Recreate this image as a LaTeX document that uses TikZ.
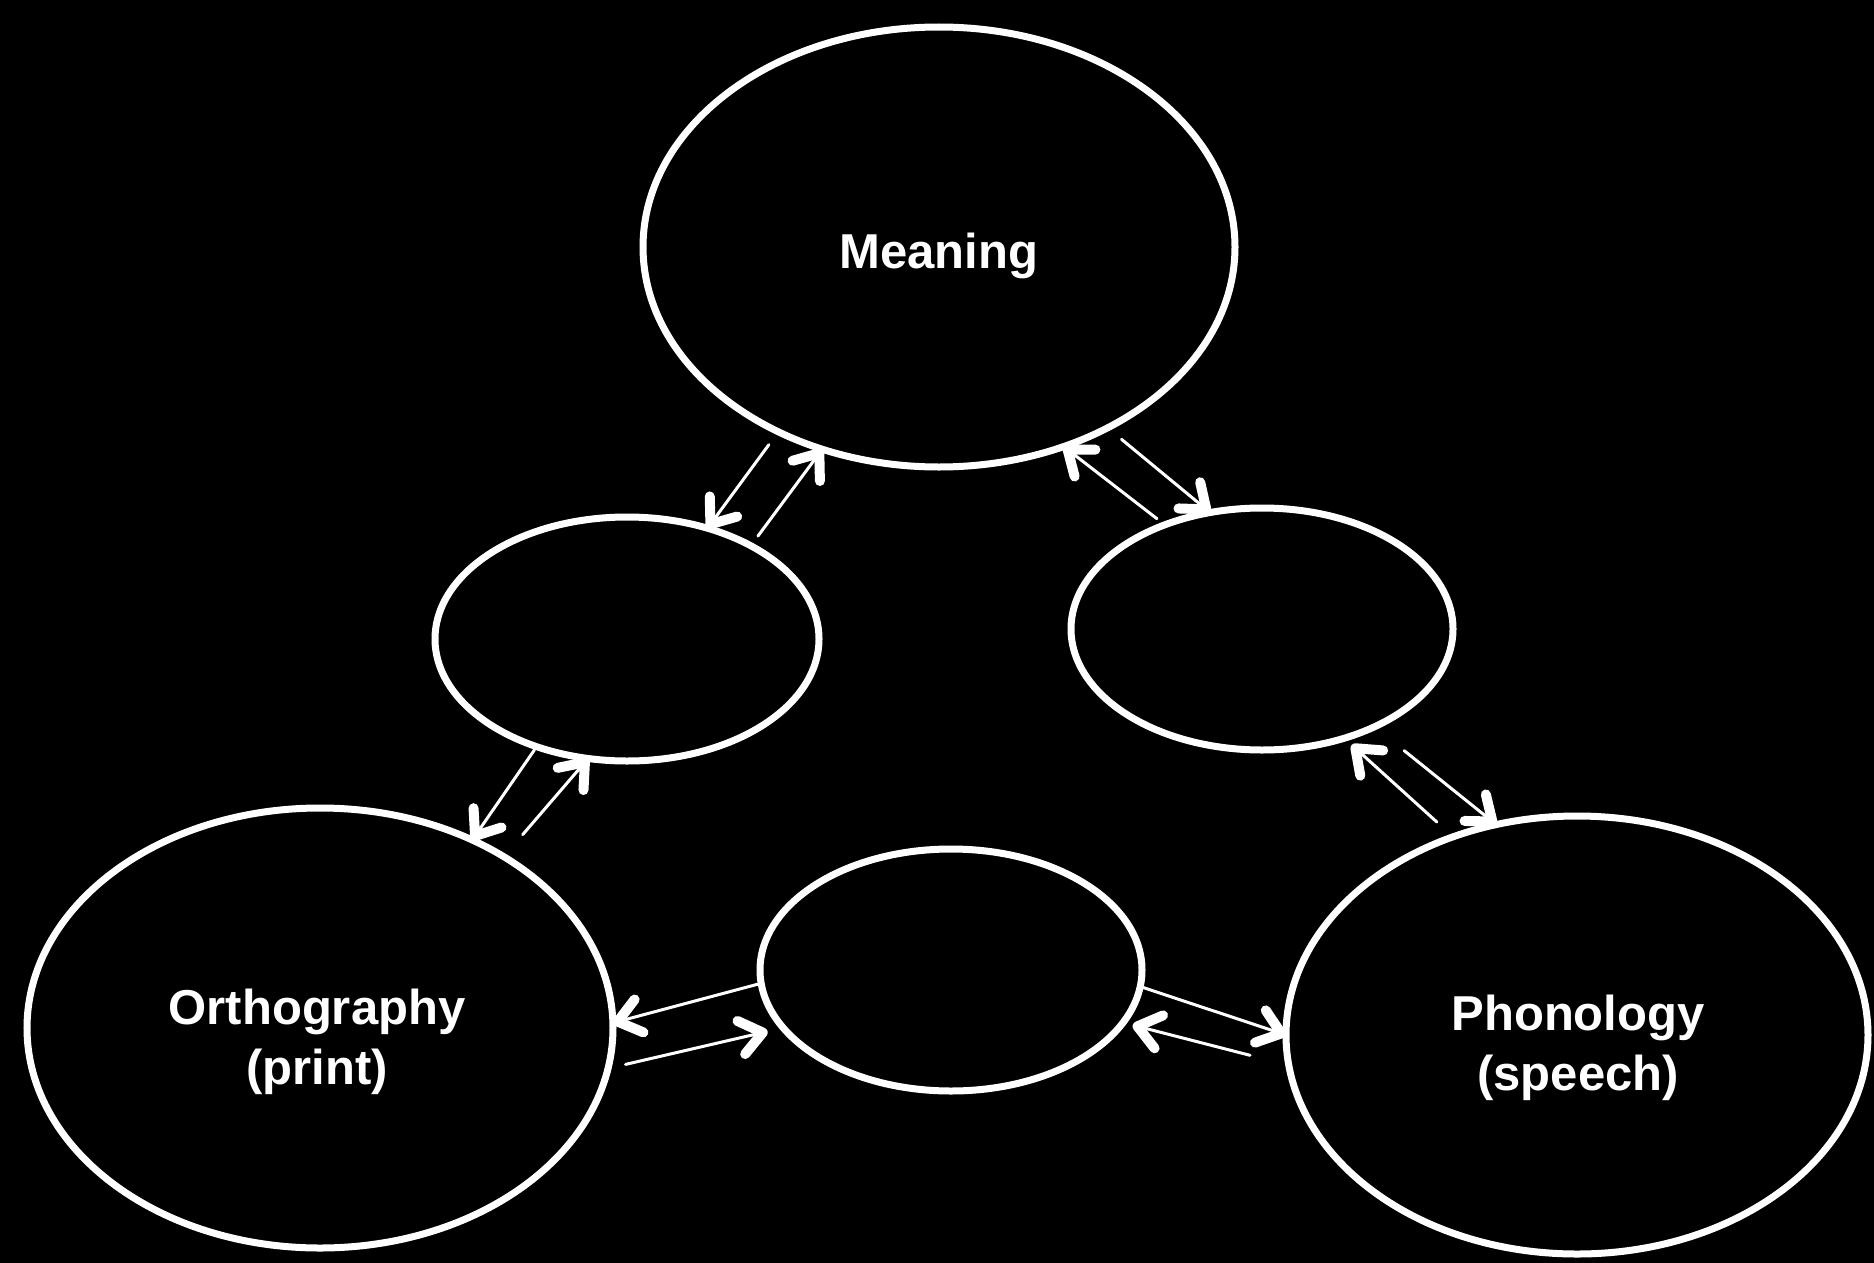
\documentclass[tikz,border=0pt]{standalone}
\usepackage{fontspec}
\setmainfont{Liberation Sans}
\usetikzlibrary{shapes.geometric,arrows.meta}
\begin{document}
\begin{tikzpicture}[x=1pt,y=-1pt,
  oval/.style={ellipse,draw=white,line width=7pt,inner sep=0pt,outer sep=0pt},
  lbl/.style={text=white,align=center,inner sep=0pt,font=\fontsize{49}{60}\selectfont\bfseries},
  arr/.style={draw=white,line width=3pt,line cap=round,
    -{Straight Barb[length=22pt,width=34pt,line width=10pt,round]}}]
\fill[black] (0,0) rectangle (1874,1263);
\useasboundingbox (0,0) rectangle (1874,1263);
\node[oval,minimum width=592pt,minimum height=440pt] (mean) at (939,247) {};
\node[oval,minimum width=384pt,minimum height=244pt] (left) at (627,639) {};
\node[oval,minimum width=382pt,minimum height=242pt] (right) at (1262,629) {};
\node[oval,minimum width=382pt,minimum height=242pt] (bot) at (951,970) {};
\node[oval,minimum width=586pt,minimum height=440pt] (orth) at (320,1028) {};
\node[oval,minimum width=582pt,minimum height=438pt] (phon) at (1577,1035) {};
\node[lbl] (meantxt) at (939,256) {Meaning};
\node[lbl] (orthtxt) at (317,1042) {Orthography\\(print)};
\node[lbl] (phontxt) at (1578,1048) {Phonology\\(speech)};
% Meaning - left
\draw[arr,shorten <=16pt] (mean.229.7) -- (left.54.2);
\draw[arr,shorten <=12pt] (left.37.9) -- (mean.240.8);
% left - orthography
\draw[arr,shorten <=4pt] (left.230.9) -- (orth.51.4);
\draw[arr,shorten <=29pt] (orth.43.1) -- (left.252);
% Meaning - right
\draw[arr,shorten <=18pt] (mean.313.4) -- (right.114.7);
\draw[arr,shorten <=10pt] (right.133.9) -- (mean.302.7);
% right - phonology
\draw[arr,shorten <=38pt] (right.319.4) -- (phon.111.6);
\draw[arr,shorten <=22pt,shorten >=10pt] (phon.122.7) -- (right.307.3);
% bottom - orthography
\draw[arr] (bot.184.4) -- (orth.1.9);
\draw[arr,shorten <=18pt,shorten >=16pt] (orth.352.1) -- (bot.199.6);
% bottom - phonology
\draw[arr] (bot.355.6) -- (phon.180);
\draw[arr,shorten <=40pt,shorten >=10pt] (phon.186) -- (bot.343.6);
\end{tikzpicture}
\end{document}
